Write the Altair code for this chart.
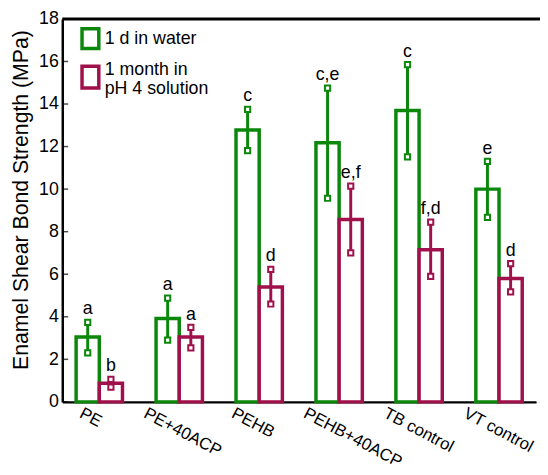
import altair as alt
import pandas as pd

groups = ["PE", "PE+40ACP", "PEHB", "PEHB+40ACP", "TB control", "VT control"]
series = ["1 d in water", "1 month in pH 4 solution"]
water_mean = [3.05, 3.92, 12.78, 12.18, 13.70, 10.00]
water_lo = [2.30, 2.90, 11.81, 9.57, 11.52, 8.67]
water_hi = [3.74, 4.88, 13.75, 14.75, 15.85, 11.30]
water_sig = ["a", "a", "c", "c,e", "c", "e"]
acid_mean = [0.88, 3.05, 5.40, 8.57, 7.15, 5.80]
acid_lo = [0.69, 2.54, 4.60, 7.00, 5.90, 5.17]
acid_hi = [1.06, 3.50, 6.23, 10.14, 8.45, 6.50]
acid_sig = ["b", "a", "d", "e,f", "f,d", "d"]
y_ticks = [0, 2, 4, 6, 8, 10, 12, 14, 16, 18]

GREEN = "#0b870b"
RED = "#a0104a"
FONT = "Liberation Sans"

rows = []
for i, g in enumerate(groups):
    rows.append(dict(group=g, series=series[0], mean=water_mean[i], lo=water_lo[i], hi=water_hi[i], sig=water_sig[i]))
for i, g in enumerate(groups):
    rows.append(dict(group=g, series=series[1], mean=acid_mean[i], lo=acid_lo[i], hi=acid_hi[i], sig=acid_sig[i]))
df = pd.DataFrame(rows)

caps = pd.concat([
    df[["group", "series", "lo"]].rename(columns={"lo": "v"}),
    df[["group", "series", "hi"]].rename(columns={"hi": "v"}),
])

xscale = alt.Scale(domain=groups, paddingInner=0.42, paddingOuter=0.173, range=[0, 480])
yscale = alt.Scale(domain=[0, 18], nice=False, zero=True)
cscale = alt.Scale(domain=series, range=[GREEN, RED])

X = alt.X(
    "group:N", scale=xscale, sort=groups, title=None,
    axis=alt.Axis(
        labelAngle=28, labelAlign="left", labelBaseline="top", labelFontSize=17,
        labelColor="black", labelPadding=3, ticks=False, domainColor="black",
        domainWidth=2.5, labelFont=FONT,
        labelOffset={"expr": "datum.value == 'PE' ? -15 : datum.value == 'PEHB' ? -23 : -31"},
    ),
)
XO = alt.XOffset("series:N", sort=series, scale=alt.Scale(domain=series, paddingInner=0, paddingOuter=0))
COL = alt.Color("series:N", scale=cscale, legend=None)

base = alt.Chart(df)

bars = base.mark_bar(fill="white", strokeWidth=3.5).encode(
    x=X, xOffset=XO,
    y=alt.Y("mean:Q", scale=yscale, title="Enamel  Shear Bond Strength (MPa)",
            axis=alt.Axis(values=y_ticks, ticks=False, grid=False, labelFontSize=18,
                          labelColor="black", labelPadding=4, domainColor="black",
                          domainWidth=2.5, titleFontSize=21.5, titleFontWeight="normal",
                          titleColor="black", titlePadding=6, labelFont=FONT, titleFont=FONT,
                          titleY=183)),
    stroke=alt.Stroke("series:N", scale=cscale, legend=None),
)

err = base.mark_rule(strokeWidth=3).encode(
    x=X, xOffset=XO, y=alt.Y("lo:Q", scale=yscale), y2="hi:Q", color=COL,
)

capm = alt.Chart(caps).mark_square(size=28, fill="white", strokeWidth=2, opacity=1, filled=False).encode(
    x=X, xOffset=XO, y=alt.Y("v:Q", scale=yscale),
    stroke=alt.Stroke("series:N", scale=cscale, legend=None),
)

sig = base.mark_text(fontSize=18, baseline="bottom", dy=-4, color="black", font=FONT).encode(
    x=X, xOffset=XO, y=alt.Y("hi:Q", scale=yscale), text="sig:N",
)

tick_df = pd.DataFrame({"v": y_ticks})
yt = alt.Chart(tick_df).mark_tick(size=5, thickness=1.5, color="black", orient="horizontal").encode(
    y=alt.Y("v:Q", scale=yscale), x=alt.value(3.5),
)

top = alt.Chart(pd.DataFrame({"v": [18]})).mark_rule(strokeWidth=3, color="black").encode(
    y=alt.Y("v:Q", scale=yscale),
)

one = pd.DataFrame({"a": [0]})
leg_g = alt.Chart(one).mark_rect(fill="white", stroke=GREEN, strokeWidth=3.5).encode(
    x=alt.value(20), x2=alt.value(37), y=alt.value(10), y2=alt.value(30))
leg_r = alt.Chart(one).mark_rect(fill="white", stroke=RED, strokeWidth=3.5).encode(
    x=alt.value(20), x2=alt.value(37), y=alt.value(48), y2=alt.value(70))
t1 = alt.Chart(one).mark_text(align="left", baseline="middle", fontSize=18, font=FONT, color="black").encode(
    x=alt.value(43), y=alt.value(20), text=alt.value("1 d in water"))
t2 = alt.Chart(one).mark_text(align="left", baseline="middle", fontSize=18, font=FONT, color="black").encode(
    x=alt.value(43), y=alt.value(52), text=alt.value("1 month in"))
t3 = alt.Chart(one).mark_text(align="left", baseline="middle", fontSize=18, font=FONT, color="black").encode(
    x=alt.value(43), y=alt.value(71), text=alt.value("pH 4 solution"))

chart = alt.layer(bars, err, capm, sig, yt, top, leg_g, leg_r, t1, t2, t3).properties(
    width=484, height=388,
    autosize=alt.AutoSizeParams(type="none"),
    padding={"left": 55, "top": 8, "right": 0, "bottom": 70},
).configure_view(stroke="#aaaaaa", strokeWidth=1).configure(font=FONT)

chart.save("out.html", embed_options={"renderer": "svg", "actions": False})
